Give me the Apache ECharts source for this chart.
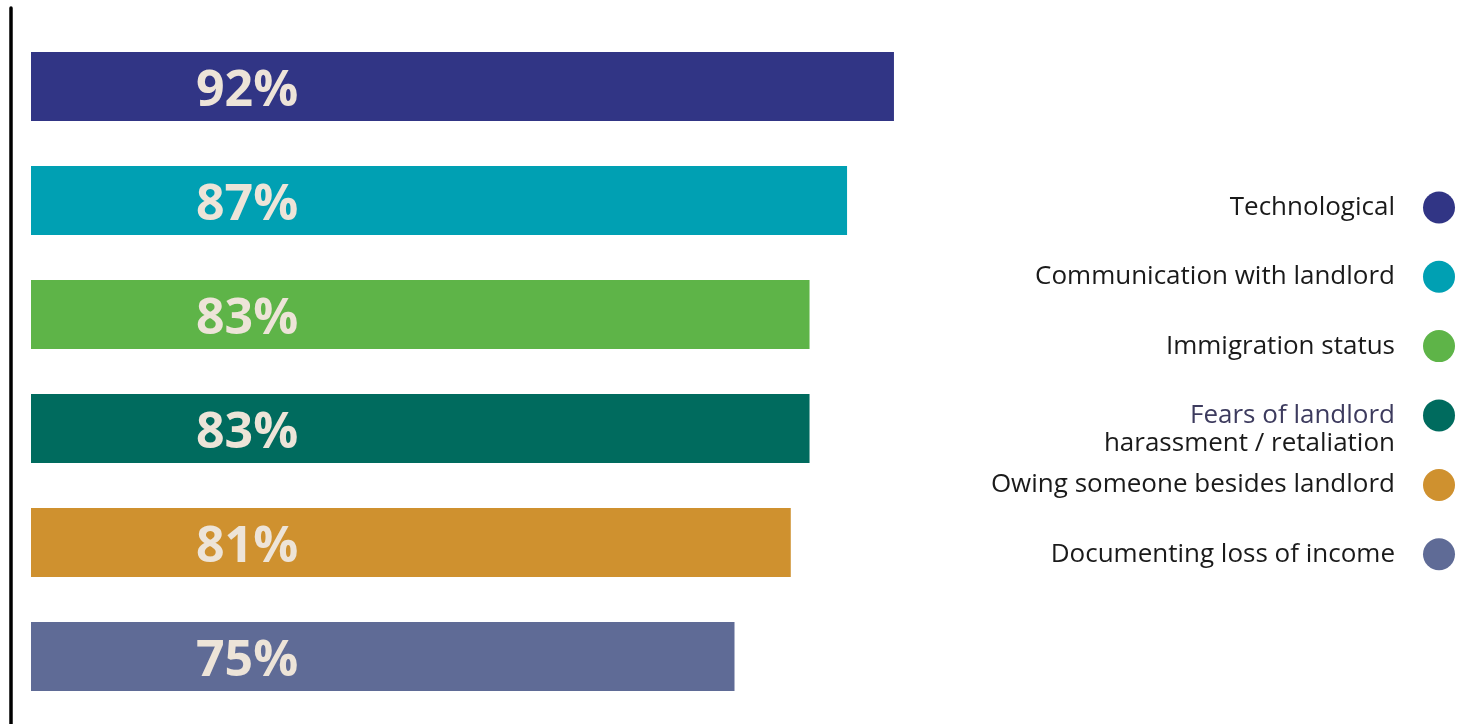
<!DOCTYPE html>
<html>
<head>
<meta charset="utf-8">
<title>Barriers</title>
<script src="https://cdn.jsdelivr.net/npm/echarts@6/dist/echarts.min.js"></script>
<style>
  html, body { margin: 0; padding: 0; background: #ffffff; }
  #chart { width: 1467px; height: 724px; }
</style>
</head>
<body>
<div id="chart"></div>
<script>
// Categories (also used as legend labels; "\n" breaks a label onto two lines)
var categories = [
  'Technological',
  'Communication with landlord',
  'Immigration status',
  'Fears of landlord\nharassment / retaliation',
  'Owing someone besides landlord',
  'Documenting loss of income'
];
// Share of respondents, in percent
var values = [92, 87, 83, 83, 81, 75];
// One colour per category
var palette = ['#313585', '#00a0b3', '#5eb448', '#006b5e', '#cf912f', '#5f6b96'];

var chart = echarts.init(document.getElementById('chart'), null, { renderer: 'canvas' });

// One series per category so each gets its own legend entry;
// stacking keeps them on a single bar slot per row.
var series = categories.map(function (name, i) {
  return {
    type: 'bar',
    name: name,
    stack: 'all',
    barWidth: 69,
    xAxisIndex: 0,
    yAxisIndex: 0,
    itemStyle: { color: palette[i] },
    emphasis: { disabled: true },
    label: {
      show: true,
      position: 'insideLeft',
      distance: 165,
      offset: [0, 5],
      formatter: '{c}%',
      color: '#ede4d8',
      fontFamily: '"Open Sans", sans-serif',
      fontWeight: 'bold',
      fontSize: 50
    },
    data: values.map(function (v, j) { return j === i ? v : null; })
  };
});

// Shared legend look
var legendText = {
  fontFamily: '"Open Sans", sans-serif',
  fontSize: 26,
  color: '#1a1a1a',
  lineHeight: 56,
  padding: [0, 23, 0, 0],
  rich: {
    a: { fontFamily: '"Open Sans", sans-serif', fontSize: 26, color: '#3d3b5e', lineHeight: 56 },
    b: { fontFamily: '"Open Sans", sans-serif', fontSize: 26, color: '#1a1a1a', lineHeight: 0 }
  }
};
function legendLabel(name) {
  var parts = name.split('\n');
  if (parts.length > 1) {
    return '{a|' + parts[0] + '}\n{b|' + parts[1] + '}';
  }
  return name;
}
function makeLegend(names, top) {
  return {
    orient: 'vertical',
    align: 'right',
    right: 12,
    top: top,
    padding: 0,
    itemGap: 13.3,
    itemWidth: 32,
    itemHeight: 32,
    icon: 'circle',
    selectedMode: false,
    data: names,
    formatter: legendLabel,
    textStyle: legendText
  };
}

var option = {
  backgroundColor: '#ffffff',
  animation: false,
  grid: [
    { left: 31, top: 29.5, height: 684, width: 938, containLabel: false },
    // full-height frame carrying the left rule
    { left: 11, top: 8, bottom: 0, width: 10, containLabel: false }
  ],
  xAxis: [
    { type: 'value', gridIndex: 0, min: 0, max: 100, show: false },
    { type: 'value', gridIndex: 1, show: false }
  ],
  yAxis: [
    {
      type: 'category', gridIndex: 0, inverse: true, data: categories,
      axisLine: { show: false }, axisTick: { show: false }, axisLabel: { show: false }
    },
    {
      type: 'category', gridIndex: 1, data: [''],
      axisLine: { show: true, lineStyle: { color: '#000000', width: 3.5 } },
      axisTick: { show: false }, axisLabel: { show: false }, splitLine: { show: false }
    }
  ],
  legend: [
    makeLegend(categories.slice(0, 4), 179.5),
    makeLegend(categories.slice(4), 457)
  ],
  series: series
};

chart.setOption(option);
</script>
</body>
</html>
